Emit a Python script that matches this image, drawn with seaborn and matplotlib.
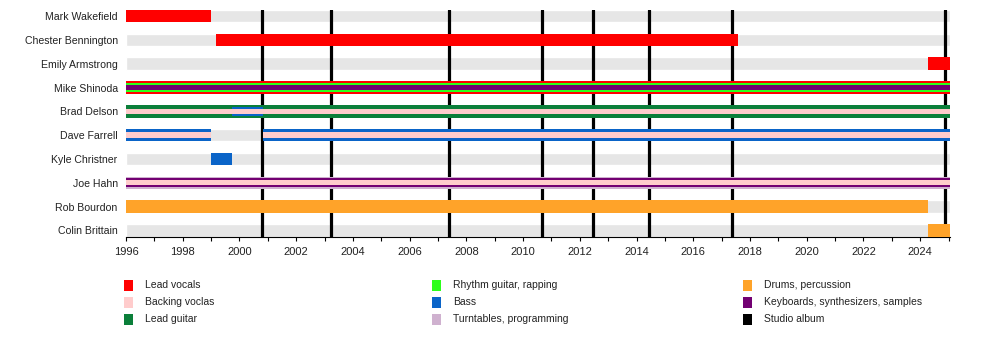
import matplotlib
matplotlib.use("Agg")
import matplotlib.pyplot as plt
from matplotlib.patches import Rectangle
from matplotlib.ticker import MultipleLocator
import seaborn as sns
import pandas as pd

# ---- data ----
members = ["Mark Wakefield", "Chester Bennington", "Emily Armstrong", "Mike Shinoda",
           "Brad Delson", "Dave Farrell", "Kyle Christner", "Joe Hahn",
           "Rob Bourdon", "Colin Brittain"]

# roles played by each member, outermost first
member_roles = {
    "Mark Wakefield": ["Lead vocals"],
    "Chester Bennington": ["Lead vocals"],
    "Emily Armstrong": ["Lead vocals"],
    "Mike Shinoda": ["Lead vocals", "Rhythm guitar, rapping", "Keyboards, synthesizers, samples"],
    "Brad Delson": ["Lead guitar", "Bass", "Backing voclas"],
    "Dave Farrell": ["Bass", "Backing voclas"],
    "Kyle Christner": ["Bass"],
    "Joe Hahn": ["Turntables, programming", "Keyboards, synthesizers, samples", "Backing voclas"],
    "Rob Bourdon": ["Drums, percussion"],
    "Colin Brittain": ["Drums, percussion"],
}

start_year = 1996.0
end_year = 2025.05

seg_member = ["Mark Wakefield", "Chester Bennington", "Emily Armstrong",
              "Mike Shinoda", "Mike Shinoda", "Mike Shinoda",
              "Brad Delson", "Brad Delson", "Brad Delson",
              "Dave Farrell", "Dave Farrell", "Dave Farrell", "Dave Farrell",
              "Kyle Christner",
              "Joe Hahn", "Joe Hahn", "Joe Hahn",
              "Rob Bourdon", "Colin Brittain"]
seg_role = ["Lead vocals", "Lead vocals", "Lead vocals",
            "Lead vocals", "Rhythm guitar, rapping", "Keyboards, synthesizers, samples",
            "Lead guitar", "Bass", "Backing voclas",
            "Bass", "Backing voclas", "Bass", "Backing voclas",
            "Bass",
            "Turntables, programming", "Keyboards, synthesizers, samples", "Backing voclas",
            "Drums, percussion", "Drums, percussion"]
seg_start = [1996.0, 1999.18, 2024.27,
             1996.0, 1996.0, 1996.0,
             1996.0, 1999.72, 1996.0,
             1996.0, 1996.0, 2000.82, 2000.82,
             1998.98,
             1996.0, 1996.0, 1996.0,
             1996.0, 2024.26]
seg_end = [1999.0, 2017.57, end_year,
           end_year, end_year, end_year,
           end_year, 2000.84, end_year,
           1999.0, 1999.0, end_year, end_year,
           1999.73,
           end_year, end_year, end_year,
           2024.29, end_year]

albums = [2000.81, 2003.23, 2007.37, 2010.68, 2012.45, 2014.45, 2017.37, 2024.87]

legend_labels = ["Lead vocals", "Backing voclas", "Lead guitar",
                 "Rhythm guitar, rapping", "Bass", "Turntables, programming",
                 "Drums, percussion", "Keyboards, synthesizers, samples", "Studio album"]
legend_colors = ["#ff0000", "#ffcccc", "#0b7f3a",
                 "#2cff1a", "#0a64c8", "#cfb1cf",
                 "#ffa329", "#720072", "#000000"]
role_color = dict(zip(legend_labels, legend_colors))

df = pd.DataFrame({"member": seg_member, "role": seg_role,
                   "start": seg_start, "end": seg_end})

# ---- plot ----
sns.set_theme(style="white")
plt.rcParams["font.family"] = ["Liberation Sans", "DejaVu Sans"]

fig = plt.figure(figsize=(10, 3.6), dpi=100)
ax = fig.add_axes([0.126, 0.342, 0.824, 0.630])

full_h = 0.52
layer_heights = {1: [full_h], 2: [full_h, 0.24], 3: [full_h, 0.37, 0.20]}

ypos = {m: i for i, m in enumerate(members)}

# grey background rows
ax.barh(list(range(len(members))), [end_year - start_year] * len(members),
        left=start_year, height=full_h, color="#e6e6e6", zorder=1)

# studio album lines
for a in albums:
    ax.axvline(a, color="black", lw=2.3, zorder=2)

# member bars, outer role first, inner ones stacked on top
for _, row in df.iterrows():
    roles = member_roles[row["member"]]
    layer = roles.index(row["role"])
    h = layer_heights[len(roles)][layer]
    ax.barh(ypos[row["member"]], row["end"] - row["start"], left=row["start"],
            height=h, color=role_color[row["role"]], zorder=3 + layer, linewidth=0)

ax.set_xlim(start_year, end_year)
ax.set_ylim(9.27, -0.25)
ax.set_yticks(range(len(members)))
ax.set_yticklabels(members, fontsize=7.6, color="#222222")
ax.tick_params(axis="y", length=0, pad=6)

ax.xaxis.set_major_locator(MultipleLocator(2))
ax.xaxis.set_minor_locator(MultipleLocator(1))
ax.tick_params(axis="x", which="both", direction="out", length=3, width=0.8,
               bottom=True, color="black", labelsize=8, labelcolor="#222222", pad=4)
ax.set_xticks([y for y in range(1996, 2025, 2)])
ax.set_xticklabels([str(y) for y in range(1996, 2025, 2)])

sns.despine(ax=ax, left=True, top=True, right=True)
ax.spines["bottom"].set_color("black")
ax.spines["bottom"].set_linewidth(0.8)

# legend drawn in figure pixels
col_patch_x = [124, 432, 743]
row_y = [285, 302, 319]
for i, (lab, col) in enumerate(zip(legend_labels, legend_colors)):
    c, r = divmod(i, 3)
    x0 = col_patch_x[c] / 1000
    yc = 1 - row_y[r] / 360
    fig.add_artist(Rectangle((x0, yc - 5.5 / 360), 9 / 1000, 11 / 360,
                             transform=fig.transFigure, color=col, lw=0))
    fig.text(x0 + 21 / 1000, yc, lab, fontsize=7.5, va="center", ha="left",
             color="#222222")

fig.savefig("out.png", dpi=100)
